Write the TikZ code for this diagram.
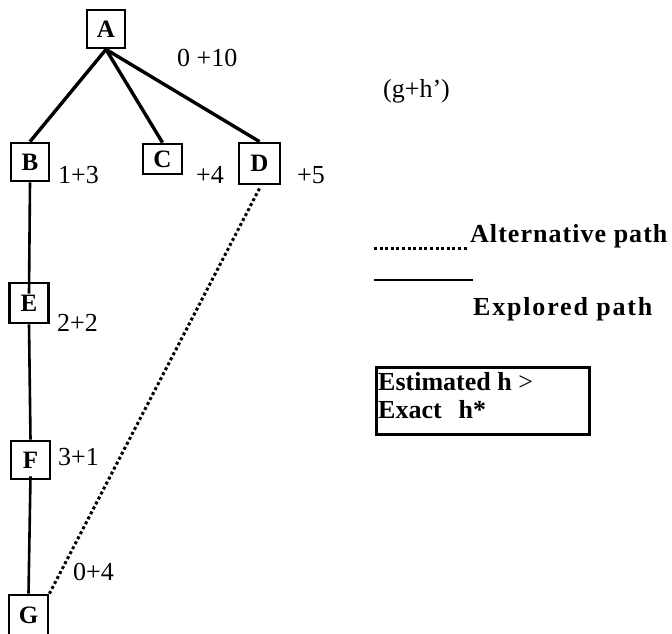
\documentclass[tikz,border=0pt]{standalone}
\usepackage{fontspec}
\setmainfont{Liberation Serif}
\begin{document}
\begin{tikzpicture}[x=1pt,y=-1pt,
  box/.style={draw, line width=2.8pt, inner sep=0pt, font=\fontsize{25}{28}\selectfont\bfseries},
  edgeA/.style={line width=3.4pt},
  edgeV/.style={line width=2.6pt},
  alt/.style={line width=3pt, dash pattern=on 3pt off 2.6pt},
  lbl/.style={anchor=base west, inner sep=0pt, font=\fontsize{26}{29}\selectfont},
  leg/.style={anchor=base west, inner sep=0pt, font=\fontsize{26}{30}\selectfont\bfseries\addfontfeature{LetterSpace=4}},
  boxtxt/.style={anchor=base west, inner sep=0pt, font=\fontsize{26}{29}\selectfont\bfseries},
]
\fill[white] (0,0) rectangle (672,633);
\useasboundingbox (0,0) rectangle (672,633);

% tree nodes
\node[box, minimum width=38pt, minimum height=38pt] (A) at (106,29) {A};
\node[box, minimum width=38pt, minimum height=38pt] (B) at (30,162) {B};
\node[box, minimum width=39pt, minimum height=30pt] (C) at (162.5,159) {C};
\node[box, minimum width=41pt, minimum height=41pt] (D) at (259.5,163.5) {D};
\node[box, minimum width=39pt, minimum height=40pt] (E) at (29,303) {E};
\node[box, minimum width=39pt, minimum height=38pt] (F) at (30.5,460) {F};
\node[box, minimum width=39pt, minimum height=41pt] (G) at (28.5,615.5) {G};

% edges
\draw[edgeA] (A.south) -- (B.north);
\draw[edgeA] (A.south) -- (C.north);
\draw[edgeA] (A.south) -- (D.north);
\draw[edgeV] (B.south) -- ([yshift=-12pt]E.north);
\draw[edgeV] (E.south) -- (F.north);
\draw[edgeV] ([yshift=4pt]F.south) -- (G.north);
\draw[alt] ([yshift=-3pt]D.south) -- (G.north east);

% labels
\node[lbl] (lA) at (177,66) {0 +10};
\node[lbl] (lB) at (58,183) {1+3};
\node[lbl] (lC) at (196,183) {+4};
\node[lbl] (lD) at (297,183) {+5};
\node[lbl] (gh) at (383,97) {(g+h’)};
\node[lbl] (lE) at (57,331) {2+2};
\node[lbl] (lF) at (58,465) {3+1};
\node[lbl] (lG) at (73,580) {0+4};

% legend
\coordinate (alt1) at (374,248);
\coordinate (alt2) at (468,248);
\draw[alt] (alt1) -- (alt2);
\node[leg] (altlbl) at (470,242) {Alternative path};
\coordinate (exp1) at (374,280);
\coordinate (exp2) at (473,280);
\draw[line width=2.8pt] (exp1) -- (exp2);
\node[leg, font=\fontsize{26}{30}\selectfont\bfseries\addfontfeature{LetterSpace=7}] (explbl) at (473,315) {Explored path};

% box
\node[draw, line width=2.8pt, minimum width=213pt, minimum height=67pt, anchor=north west, inner sep=0pt] (hbox) at (375,366) {};
\node[boxtxt] (est) at (378,390) {Estimated h {\mdseries >}};
\node[boxtxt] (exact) at (378,418) {Exact\hspace*{17pt}h*};
\end{tikzpicture}
\end{document}
